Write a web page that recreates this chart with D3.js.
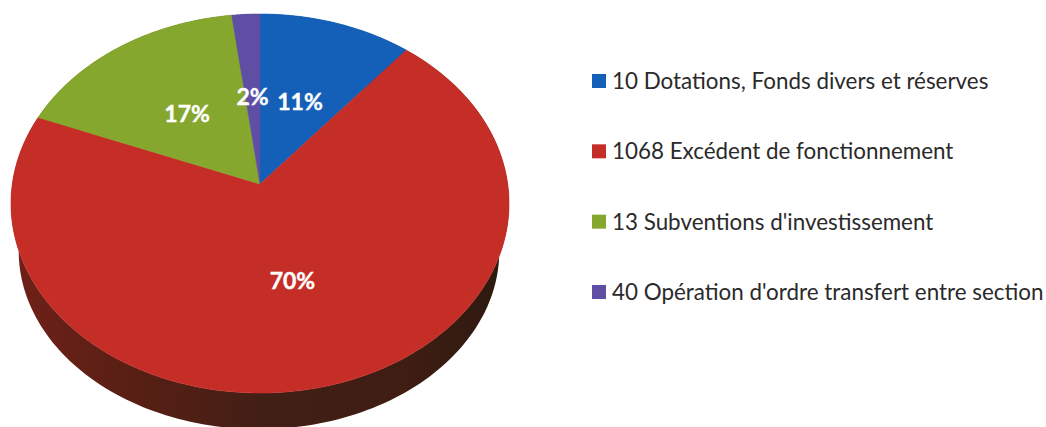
<!DOCTYPE html>
<html lang="fr">
<head>
<meta charset="utf-8">
<title>Répartition des recettes d'investissement</title>
<script src="https://cdn.jsdelivr.net/npm/d3@7"></script>
<style>
  html, body { margin: 0; padding: 0; background: #fff; }
  svg { display: block; }
  text { font-family: Lato, "Open Sans", sans-serif; }
</style>
</head>
<body>
<svg id="chart" width="1046" height="427"></svg>
<script>
const categories = [
  "10 Dotations, Fonds divers et réserves",
  "1068 Excédent de fonctionnement",
  "13 Subventions d'investissement",
  "40 Opération d'ordre transfert entre section"
];
const shares = [11, 70, 17, 2];
const faceColors = ["#1460b8", "#c52e27", "#86a72e", "#5e4fa5"];
const wallColors = ["#0c3567", "#5a1e14", "#4a5c1a", "#352c5c"];

const svg = d3.select("#chart");

// Tilted disc: a projective view of the unit circle, the apex sits above the ellipse centre.
const apex = { x: 260, y: 184 };
const tilt = 0.103, spanX = 247.7, spanY = 187.5;
const rimCentre = { x: 260, y: 203.5 };
const floor = { dx: -1, dy: 47.5, sx: 0.965, sy: 0.94 };

const project = (angle, r = 1) => {
  const x = r * Math.sin(angle), y = r * Math.cos(angle), w = 1 + tilt * y;
  return [apex.x + spanX * x / w, apex.y - spanY * y / w];
};
const lower = ([x, y]) => [
  rimCentre.x + floor.dx + (x - rimCentre.x) * floor.sx,
  rimCentre.y + floor.dy + (y - rimCentre.y) * floor.sy
];

const slices = d3.pie().sort(null).value(d => d)(shares);
const line = d3.line();
const arcPoints = s => d3.range(0, 1.0001, 1 / 180)
  .map(t => project(s.startAngle + t * (s.endAngle - s.startAngle)));

const defs = svg.append("defs");
const wallGrad = defs.append("linearGradient").attr("id", "wallShade")
  .attr("gradientUnits", "userSpaceOnUse")
  .attr("x1", 20).attr("x2", 500).attr("y1", 0).attr("y2", 0);
wallGrad.selectAll("stop")
  .data([[0, "#6e2018"], [0.25, "#571f14"], [0.5, "#421f16"], [0.8, "#3f1d12"], [1, "#2e1a10"]])
  .join("stop")
  .attr("offset", d => d[0])
  .attr("stop-color", d => d[1]);

const disc = svg.append("g");

// Side wall, drawn underneath the top face
disc.selectAll("path.wall")
  .data(slices)
  .join("path")
  .attr("class", "wall")
  .attr("fill", d => d.index === 1 ? "url(#wallShade)" : wallColors[d.index])
  .attr("d", d => {
    const top = arcPoints(d);
    return line(top.concat(top.map(lower).reverse())) + "Z";
  });

// Top face
disc.selectAll("path.face")
  .data(slices)
  .join("path")
  .attr("class", "face")
  .attr("fill", d => faceColors[d.index])
  .attr("stroke", d => faceColors[d.index])
  .attr("stroke-width", 0.6)
  .attr("d", d => line([[apex.x, apex.y], ...arcPoints(d)]) + "Z");

// Percentage labels at half radius along each slice's middle angle
disc.selectAll("text.pct")
  .data(slices)
  .join("text")
  .attr("class", "pct")
  .attr("transform", d => `translate(${project((d.startAngle + d.endAngle) / 2, 0.5)})`)
  .attr("text-anchor", "middle")
  .attr("dy", "0.42em")
  .attr("fill", "#fff")
  .attr("stroke", "#fff")
  .attr("stroke-width", 0.4)
  .attr("font-size", 23)
  .attr("font-weight", 700)
  .text(d => d.value + "%");

// Legend
const rowY = d3.scalePoint().domain(categories).range([81, 292]);
const legend = svg.append("g").selectAll("g")
  .data(categories)
  .join("g")
  .attr("transform", d => `translate(592,${rowY(d)})`);
legend.append("rect")
  .attr("y", -7).attr("width", 14).attr("height", 14)
  .attr("fill", (d, i) => faceColors[i]);
legend.append("text")
  .attr("x", 20)
  .attr("dy", "0.35em")
  .attr("fill", "#2a2a2a")
  .attr("font-size", 22.4)
  .text(d => d);
</script>
</body>
</html>
